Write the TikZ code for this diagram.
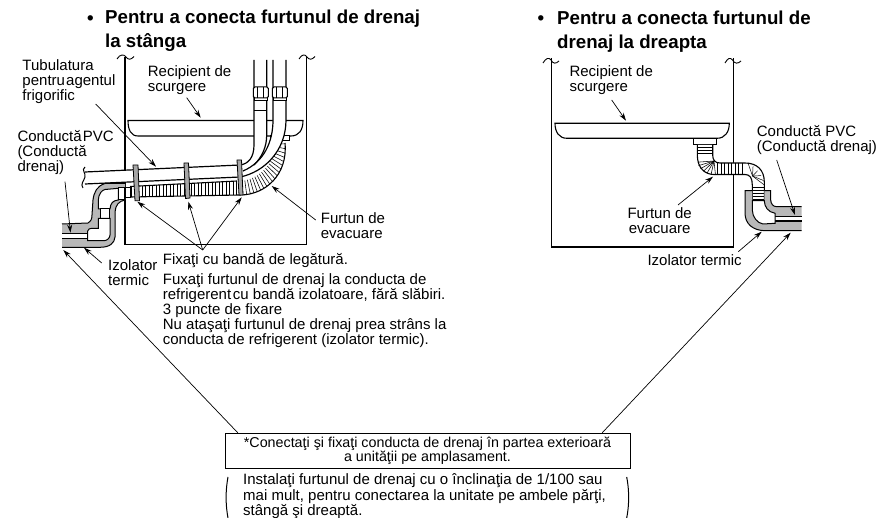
\documentclass[tikz,border=0pt]{standalone}
\usepackage{fontspec}
\setmainfont{Liberation Sans}
\usetikzlibrary{arrows.meta,calc}
\tikzset{
 lab/.style={anchor=north west,inner sep=0pt,align=left,font=\fontsize{15}{15}\selectfont},
 ttl/.style={anchor=north west,inner sep=0pt,align=left,font=\fontsize{18.7}{24}\selectfont\bfseries},
 lead/.style={draw=black,line width=0.7pt,-{Stealth[length=8pt,width=5pt]}},
 wall/.style={draw=black,line width=1.5pt},
 pipeline/.style={draw=black,line width=1.2pt},
 wavy/.style={draw=black,line width=0.9pt},
 rib/.style={draw=black,line width=0.65pt},
 insfill/.style={fill=black!28},
 insline/.style={draw=black,line width=1pt},
 whitepart/.style={draw=black,line width=1pt,fill=white},
 band/.style={draw=black,line width=0.8pt,fill=black!35},
}
\begin{document}
\begin{tikzpicture}[x=1pt,y=-1pt]
\useasboundingbox (0,0) rectangle (879,518);
% titles
\node[ttl] (t1) at (87,15.5) {•};
\node[ttl] (t1b) at (105,9.7) {Pentru a conecta furtunul de drenaj\\la stânga};
\node[ttl] (t2) at (537.5,15.5) {•};
\node[ttl] (t2b) at (557,10.4) {Pentru a conecta furtunul de\\drenaj la dreapta};
% LEFT unit
\draw[wall] (125,57) -- (125,244.5) -- (306.7,244.5) -- (306.7,57);
\draw[wavy] (117,59) .. controls (120,54) and (124,54) .. (126,57) .. controls (128,60) and (131,60) .. (134,56.5);
\draw[wavy] (299,59) .. controls (302,54) and (305,54) .. (307,57) .. controls (309,60) and (312,60) .. (315,56.5);
% tray
\draw[line width=1.1pt,fill=white] (128,120.5) -- (303,120.5) .. controls (303,130) and (299,136) .. (291,136) -- (138,136) .. controls (131,136) and (128,130) .. (128,120.5) -- cycle;
\draw[line width=1pt,fill=white] (270,136) rectangle (289.3,141);
% hose left
\fill[white] (130,186.5) -- (237,181) .. controls (258,180) and (274,165) .. (276,143) -- (285,145) .. controls (288,175) and (265,195) .. (240,195) -- (130,197) -- cycle;
\draw[line width=1.1pt] (130,186.5) -- (237,181);
\draw[line width=1.1pt] (130,197) -- (240,195) .. controls (265,195) and (288,175) .. (285,143);
\foreach \x in {131.5,135,...,238} {\draw[rib] (\x,{186.5-(\x-130)*0.0514}) -- (\x,{197-(\x-130)*0.0182});}
\foreach \t in {0.04,0.09,...,1.0} {
 \pgfmathsetmacro{\ox}{(1-\t)^3*240+3*(1-\t)^2*\t*265+3*(1-\t)*\t*\t*288+\t^3*285}
 \pgfmathsetmacro{\oy}{(1-\t)^3*195+3*(1-\t)^2*\t*195+3*(1-\t)*\t*\t*175+\t^3*143}
 \pgfmathsetmacro{\ix}{(1-\t)^3*240+3*(1-\t)^2*\t*258+3*(1-\t)*\t*\t*274+\t^3*276}
 \pgfmathsetmacro{\iy}{(1-\t)^3*181+3*(1-\t)^2*\t*180+3*(1-\t)*\t*\t*165+\t^3*143}
 \draw[line width=0.55pt] (\ix,\iy) -- (\ox,\oy);
}
% refrigerant tubes
\fill[white] (273,100) -- (273,120) .. controls (273,145) and (262,165) .. (243,172) -- (243,177) .. controls (265,172) and (286,150) .. (286,120) -- (286,100) -- cycle;
\fill[white] (254,100) -- (254,145) .. controls (254,158) and (248,164) .. (238,165) -- (238,175) .. controls (255,170) and (266.7,155) .. (266.7,135) -- (266.7,100) -- cycle;
\fill[white] (85,172) -- (240,165) -- (240,177) -- (85,184) -- cycle;
\draw[pipeline] (85,172) -- (240,165) .. controls (248,164) and (254,158) .. (254,145) -- (254,60);
\draw[pipeline] (266.7,60) -- (266.7,135) .. controls (266.7,147) and (262,157) .. (254,165);
\draw[pipeline] (273,60) -- (273,120) .. controls (273,142) and (264,162) .. (243,171);
\draw[pipeline] (286,60) -- (286,120) .. controls (286,150) and (265,172) .. (240,177) -- (85,184);
\draw[wavy,line width=1pt] (85,167) .. controls (81,170) and (86,173) .. (85,177) .. controls (84,181) and (80,184) .. (83,188);
% nuts
\foreach \x in {253.3,272.3}{
 \draw[line width=1pt,fill=white] (\x+1,98) rectangle (\x+14,101);
 \draw[line width=1pt,fill=white,rounded corners=1.5pt] (\x,87) rectangle (\x+15,98);
 \draw[line width=0.8pt] (\x+4.5,87) -- (\x+4.5,98) (\x+10.5,87) -- (\x+10.5,98);
}
\draw[line width=1pt] (254,110.7) -- (266.7,110.7);
% bands
\draw[band] (133,165) -- (138,165) -- (139.5,200.7) -- (135,200.7) -- cycle;
\draw[band] (184,163) -- (188.5,163) -- (190,198) -- (185.5,198.5) -- cycle;
\draw[band] (237,160) -- (241.5,160) -- (243,195) -- (239,195) -- cycle;
% left elbow
\fill[insfill] (62,224) -- (88,223) .. controls (91,221) and (92,219) .. (92,215) -- (93,200) .. controls (94,192) and (97,186) .. (105,183.5) -- (125,183.5) -- (125,200) .. controls (119,201) and (115.5,205) .. (115,212) -- (115,237) .. controls (114.5,243) and (110,247.3) .. (100,247.3) -- (62,247.3) -- cycle;
\draw[insline] (62,224) -- (88,223) .. controls (91,221) and (92,219) .. (92,215) -- (93,200) .. controls (94,192) and (97,186) .. (105,183.5) -- (125,183.5);
\draw[insline] (125,200) .. controls (119,201) and (115.5,205) .. (115,212) -- (115,237) .. controls (114.5,243) and (110,247.3) .. (100,247.3) -- (62,247.3);
\fill[white] (62,233) rectangle (88,238.5);
\draw[line width=0.9pt] (62,233) -- (88,233);
\draw[line width=1.3pt] (62,238.7) -- (88,238.7);
\draw[whitepart] (98.3,209) -- (98.3,200) .. controls (98.5,194) and (102,190) .. (105,189.5) -- (118.3,188.3) -- (118.3,200) .. controls (113,200.5) and (110.5,203) .. (110,209) -- cycle;
\draw[whitepart] (100,209) rectangle (109.5,218.3);
\draw[whitepart] (87.7,240.7) -- (87.7,231) .. controls (88,229) and (90,228.3) .. (92,228.3) -- (98.3,228.3) -- (98.3,218.3) -- (110,218.3) -- (110,235) .. controls (110,238) and (107,240.7) .. (104,240.7) -- cycle;
\draw[whitepart] (118.3,188) rectangle (124.8,200);
\draw[whitepart] (125,187.5) rectangle (130,198);
% RIGHT unit
\draw[wall] (551.3,58) -- (551.3,247) -- (733.3,247) -- (733.3,58);
\draw[wavy] (543,63) .. controls (546,58) and (549,57) .. (551,60) .. controls (553,64) and (556,64) .. (559,61);
\draw[wavy] (725,63) .. controls (728,58) and (730,57) .. (732.5,60) .. controls (734.5,64) and (738,64) .. (741,61);
\draw[line width=1.1pt,fill=white] (555,123.3) -- (729.3,123.3) .. controls (729.3,132) and (725,138.3) .. (717,138.3) -- (567,138.3) .. controls (559,138.3) and (555,132) .. (555,123.3) -- cycle;
\draw[line width=1pt,fill=white] (693.3,138.3) rectangle (716,145);
% hose right
\fill[white] (697.3,145) -- (697.3,155) .. controls (697.3,168) and (705,174.5) .. (714,174.5) -- (745,174.5) .. controls (750,174.5) and (752.3,178) .. (752.3,185) -- (752.3,201) -- (764.3,201) -- (764.3,182) .. controls (764.3,170) and (757,163) .. (745,163) -- (720,163) .. controls (715,163) and (712.7,160) .. (712.7,155) -- (712.7,145) -- cycle;
\draw[line width=1.1pt] (697.3,145) -- (697.3,155) .. controls (697.3,168) and (705,174.5) .. (714,174.5) -- (745,174.5) .. controls (750,174.5) and (752.3,178) .. (752.3,185) -- (752.3,201);
\draw[line width=1.1pt] (712.7,145) -- (712.7,155) .. controls (712.7,160) and (715,163) .. (720,163) -- (745,163) .. controls (757,163) and (764.3,170) .. (764.3,182) -- (764.3,201);
\foreach \y in {147.5,150.5,153.5} {\draw[rib] (697.3,\y) -- (712.7,\y);}
\foreach \a in {5,20,...,95} {\draw[line width=0.55pt] (714,161) -- ({714-16.5*cos(\a)},{161+13.5*sin(\a)});}
\foreach \x in {717.5,721,...,745} {\draw[rib] (\x,163) -- (\x,174.5);}
\foreach \a in {0,18,...,90} {\draw[line width=0.5pt] (752.5,176) -- ({748+16.3*sin(\a)},{176+(-13)*cos(\a)+9*sin(\a)});}
\foreach \y in {187,190,...,199} {\draw[rib] (752.3,\y) -- (764.3,\y);}
% right elbow
\fill[insfill] (745,190.7) -- (752.3,190.7) -- (752.3,201) -- (764.3,201) -- (764.3,190.7) -- (770.7,190.7) -- (770.7,200) .. controls (771,204) and (773,206.7) .. (777,206.7) -- (801.7,206.7) -- (801.7,230.7) -- (765,230.7) .. controls (753,230.5) and (745,224) .. (745,213) -- cycle;
\draw[insline] (752.3,190.7) -- (745,190.7) -- (745,213) .. controls (745,224) and (753,230.5) .. (765,230.7) -- (801.7,230.7);
\draw[insline] (764.3,190.7) -- (770.7,190.7) -- (770.7,200) .. controls (771,204) and (773,206.7) .. (777,206.7) -- (801.7,206.7);
\fill[white] (775,216) rectangle (801.7,221);
\draw[line width=0.9pt] (775,216) -- (801.7,216);
\draw[line width=1.3pt] (775,221) -- (801.7,221);
\draw[whitepart] (752.3,200.7) -- (764.3,200.7) .. controls (764.5,207) and (768,212) .. (775,213.3) -- (775,223.3) -- (763,224) .. controls (757,223) and (752.5,217) .. (752.3,210) -- cycle;
% leaders
\node[lab] (a1) at (22.3,59.8) {Tubulatura\\pentru\hspace{1.2pt}agentul\\frigorific};
\coordinate (a1s) at (95.7,104); \coordinate (a1e) at (156,166.7);
\draw[lead] (a1s) -- (a1e);
\node[lab] (a2) at (147.7,65.8) {Recipient de\\scurgere};
\coordinate (a2s) at (186.7,97.7); \coordinate (a2e) at (200.7,117.7);
\draw[lead] (a2s) -- (a2e);
\node[lab] (a3) at (17.3,130.1) {Conductă\hspace{1.2pt}PVC\\(Conductă\\drenaj)};
\coordinate (a3s) at (65,181.7); \coordinate (a3e) at (70.5,232.7);
\draw[lead] (a3s) -- (a3e);
\node[lab] (a4) at (108,259.1) {Izolator\\termic};
\coordinate (a4s) at (101.7,263); \coordinate (a4e) at (84,247.7);
\draw[lead] (a4s) -- (a4e);
\node[lab] (a5) at (162.7,253.4) {Fixaţi cu bandă de legătură.};
\coordinate (fx) at (202.7,250);
\coordinate (f1) at (137.3,201.7); \coordinate (f2) at (188.3,201.7); \coordinate (f3) at (241.7,197.3);
\draw[lead] (fx) -- (f1); \draw[lead] (fx) -- (f2); \draw[lead] (fx) -- (f3);
\node[lab] (a6) at (162.7,273.4) {Fuxaţi furtunul de drenaj la conducta de\\refrigerent\hspace{1.5pt}cu bandă izolatoare, fără slăbiri.\\3 puncte de fixare\\Nu ataşaţi furtunul de drenaj prea strâns la\\conducta de refrigerent (izolator termic).};
\node[lab] (a7) at (320.7,212.1) {Furtun de\\evacuare};
\coordinate (a7s) at (315.7,220); \coordinate (a7e) at (271.7,186);
\draw[lead] (a7s) -- (a7e);
% right labels
\node[lab] (b1) at (569.3,65.1) {Recipient de\\scurgere};
\coordinate (b1s) at (611.7,100); \coordinate (b1e) at (626,120.7);
\draw[lead] (b1s) -- (b1e);
\node[lab,align=center] (b2) at (627.3,207.4) {Furtun de\\evacuare};
\coordinate (b2s) at (678,205); \coordinate (b2e) at (713,176.7);
\draw[lead] (b2s) -- (b2e);
\node[lab] (b3) at (756.7,125.1) {Conductă PVC\\(Conductă drenaj)};
\coordinate (b3s) at (776.7,160); \coordinate (b3e) at (795,215);
\draw[lead] (b3s) -- (b3e);
\node[lab] (b4) at (647.3,254.1) {Izolator termic};
\coordinate (b4s) at (738.3,251.7); \coordinate (b4e) at (761.7,231.7);
\draw[lead] (b4s) -- (b4e);
% note box
\node[draw=black,line width=1pt,inner sep=0pt,minimum width=405pt,minimum height=35pt,align=center,font=\fontsize{14.3}{13.8}\selectfont] (box) at (427.5,450.8) {*Conectaţi şi fixaţi conducta de drenaj în partea exterioară\\a unităţii pe amplasament.};
\path (box.north west) ++(13.3,0) coordinate (bl);
\path (box.north east) ++(-28.3,0) coordinate (br);
\coordinate (l1) at (63.3,250); \coordinate (l2) at (790.7,232.7);
\draw[lead] (bl) -- (l1);
\draw[lead] (br) -- (l2);
\node[lab,font=\fontsize{15}{13.6}\selectfont] (n1) at (243,473.8) {Instalaţi furtunul de drenaj cu o înclinaţia de 1/100 sau\\mai mult, pentru conectarea la unitate pe ambele părţi,\\stângă şi dreaptă.};
\draw[line width=1pt] (228,477) .. controls (225.5,490) and (225.5,505) .. (228,518);
\draw[line width=1pt] (626.7,477) .. controls (629.3,490) and (629.3,505) .. (626.7,518);
\end{tikzpicture}
\end{document}
